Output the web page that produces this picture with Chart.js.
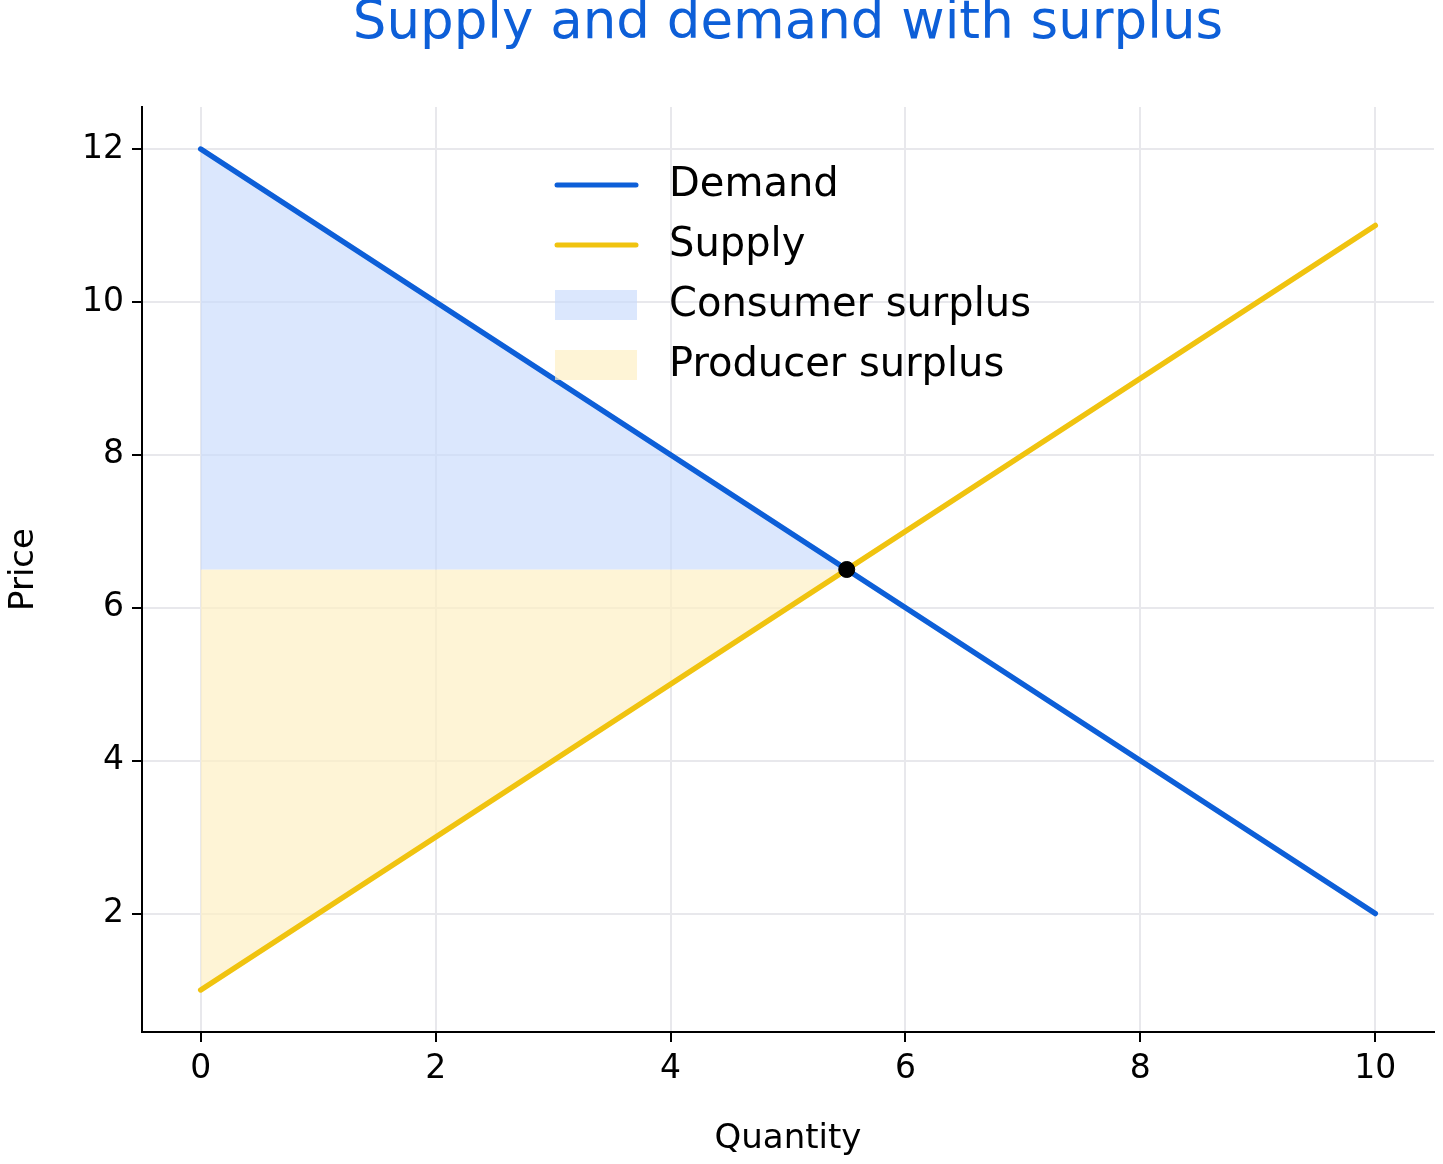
<!DOCTYPE html>
<html><head><meta charset="utf-8">
<script src="https://cdn.jsdelivr.net/npm/chart.js@4"></script>
<style>html,body{margin:0;padding:0;background:#fff}#w{width:1443px;height:1164px}</style>
</head><body><div id="w"><canvas id="c"></canvas></div>
<script>
const quantity = [0, 10];
const demandPrice = [12, 2];
const supplyPrice = [1, 11];
const eqQuantity = 5.5;
const eqPrice = 6.5;
const xTicks = [0, 2, 4, 6, 8, 10];
const yTicks = [2, 4, 6, 8, 10, 12];
const legendLabels = ['Demand', 'Supply', 'Consumer surplus', 'Producer surplus'];

const BLUE = '#0d5fd8', GOLD = '#f0c30f', CFILL = 'rgba(200,218,252,0.65)', PFILL = 'rgba(253,240,196,0.7)';
const F = 'DejaVu Sans';

const demandAt = q => demandPrice[0] + (demandPrice[1]-demandPrice[0])*(q-quantity[0])/(quantity[1]-quantity[0]);
const supplyAt = q => supplyPrice[0] + (supplyPrice[1]-supplyPrice[0])*(q-quantity[0])/(quantity[1]-quantity[0]);

const deco = {
  id: 'deco',
  afterDraw(ch) {
    const c = ch.ctx; c.save();
    c.fillStyle = BLUE; c.font = '53px "' + F + '"'; c.textAlign = 'center'; c.textBaseline = 'middle';
    c.fillText('Supply and demand with surplus', (ch.chartArea.left + ch.chartArea.right)/2, 24);
    c.textAlign = 'left'; c.font = '40px "' + F + '"'; c.fillStyle = '#000';
    const ys = [185, 245, 305, 365];
    c.lineWidth = 5; c.lineCap = 'round';
    [BLUE, GOLD].forEach((col, i) => { c.strokeStyle = col; c.beginPath(); c.moveTo(557, ys[i]); c.lineTo(636, ys[i]); c.stroke(); });
    c.fillStyle = CFILL; c.fillRect(555, 290, 82, 30);
    c.fillStyle = PFILL; c.fillRect(555, 350, 82, 30);
    c.fillStyle = '#000';
    legendLabels.forEach((t, i) => c.fillText(t, 669, ys[i] + 1));
    c.restore();
  }
};

new Chart(document.getElementById('c'), {
  type: 'scatter',
  data: { datasets: [
    { data: [{x: quantity[0], y: demandAt(quantity[0])}, {x: eqQuantity, y: eqPrice}], showLine: true, borderWidth: 0, borderColor: 'rgba(0,0,0,0)', pointRadius: 0, backgroundColor: CFILL, fill: {value: eqPrice}, order: 5 },
    { data: [{x: quantity[0], y: supplyAt(quantity[0])}, {x: eqQuantity, y: eqPrice}], showLine: true, borderWidth: 0, borderColor: 'rgba(0,0,0,0)', pointRadius: 0, backgroundColor: PFILL, fill: {value: eqPrice}, order: 5 },
    { data: quantity.map((q, i) => ({x: q, y: demandPrice[i]})), showLine: true, borderColor: BLUE, borderWidth: 5.5, pointRadius: 0, borderCapStyle: 'round', order: 2 },
    { data: quantity.map((q, i) => ({x: q, y: supplyPrice[i]})), showLine: true, borderColor: GOLD, borderWidth: 5.5, pointRadius: 0, borderCapStyle: 'round', order: 3 },
    { data: [{x: eqQuantity, y: eqPrice}], pointRadius: 8, backgroundColor: '#000', borderColor: '#000', order: 0 }
  ]},
  options: {
    responsive: true, maintainAspectRatio: false, animation: false, devicePixelRatio: 1,
    layout: { padding: { top: 107, right: 0, left: 0, bottom: 0 } },
    plugins: { legend: { display: false }, tooltip: { enabled: false }, title: { display: false } },
    scales: {
      x: {
        min: -0.5, max: 10.5,
        afterBuildTicks: s => { s.ticks = xTicks.map(v => ({value: v})); },
        afterFit: s => { s.height = 132; s.paddingRight = 0; s.paddingLeft = 0; },
        grid: { color: '#e8e8ec', lineWidth: 2, tickColor: '#000', tickLength: 10, tickWidth: 2 },
        border: { color: '#000', width: 2 },
        ticks: { color: '#000', font: { family: F, size: 33 }, padding: 8, maxRotation: 0 },
        title: { display: true, text: 'Quantity', color: '#000', font: { family: F, size: 34 }, padding: { top: 14 } }
      },
      y: {
        min: 0.45, max: 12.55,
        afterBuildTicks: s => { s.ticks = yTicks.map(v => ({value: v})); },
        afterFit: s => { s.width = 142; s.paddingTop = 0; s.paddingBottom = 0; },
        grid: { color: '#e8e8ec', lineWidth: 2, tickColor: '#000', tickLength: 10, tickWidth: 2 },
        border: { color: '#000', width: 2 },
        ticks: { color: '#000', font: { family: F, size: 33 }, padding: 8 },
        title: { display: true, text: 'Price', color: '#000', font: { family: F, size: 34 }, padding: { bottom: 0 } }
      }
    }
  },
  plugins: [deco]
});
</script></body></html>
